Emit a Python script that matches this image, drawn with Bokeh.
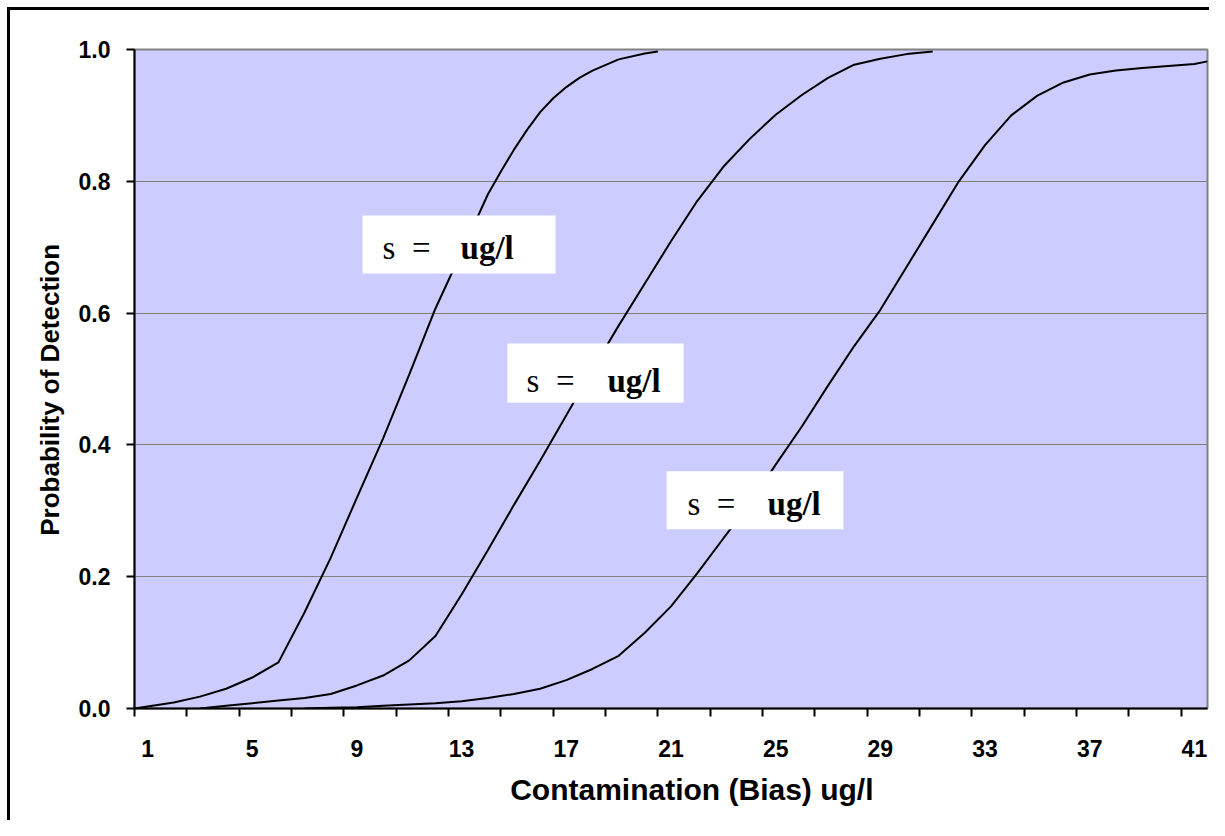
from bokeh.plotting import figure
from bokeh.models import Range1d, FixedTicker
from bokeh.core.properties import value
from bokeh.embed import file_html
from bokeh.resources import INLINE

# ---- data ----
x_tick_labels = [1, 5, 9, 13, 17, 21, 25, 29, 33, 37, 41]
y_ticks = [0.0, 0.2, 0.4, 0.6, 0.8, 1.0]
y_tick_labels = ["0.0", "0.2", "0.4", "0.6", "0.8", "1.0"]

curve1_x = [0.5, 1, 2, 3, 4, 5, 6, 7, 8, 9, 10, 11, 12, 13, 14, 14.5, 15, 15.5, 16, 16.5,
            17, 17.5, 18, 19, 20, 20.5]
curve1_y = [0.0, 0.003, 0.009, 0.018, 0.03, 0.047, 0.07, 0.146, 0.229, 0.32, 0.41, 0.507,
            0.607, 0.693, 0.78, 0.815, 0.848, 0.878, 0.905, 0.926, 0.943, 0.957, 0.968,
            0.985, 0.994, 0.997]

curve2_x = [3, 4, 5, 6, 7, 8, 9, 10, 11, 12, 13, 14, 15, 16, 17, 18, 19, 20, 21, 22, 23, 24,
            25, 26, 27, 28, 29, 30, 31]
curve2_y = [0.0, 0.004, 0.008, 0.012, 0.016, 0.022, 0.035, 0.05, 0.073, 0.11, 0.173, 0.24,
            0.309, 0.376, 0.445, 0.514, 0.581, 0.645, 0.709, 0.77, 0.822, 0.864, 0.901,
            0.931, 0.957, 0.977, 0.986, 0.993, 0.997]

curve3_x = [7, 8, 9, 10, 11, 12, 13, 14, 15, 16, 17, 18, 19, 20, 21, 22, 23, 24, 25, 26, 27,
            28, 29, 30, 31, 32, 33, 34, 35, 36, 37, 38, 39, 40, 41, 41.5]
curve3_y = [0.0, 0.001, 0.002, 0.004, 0.006, 0.008, 0.011, 0.016, 0.022, 0.03, 0.043, 0.06,
            0.08, 0.115, 0.155, 0.205, 0.258, 0.31, 0.37, 0.428, 0.49, 0.55, 0.605, 0.67,
            0.735, 0.80, 0.855, 0.90, 0.93, 0.95, 0.962, 0.968, 0.972, 0.975, 0.978, 0.982]

# label boxes (data coordinates)
box_left = [9.21, 14.75, 20.83]
box_right = [16.59, 21.48, 27.59]
box_top = [0.748, 0.554, 0.360]
box_bottom = [0.660, 0.464, 0.272]
sym_x = [9.98, 15.48, 21.63]
unit_x = [12.96, 18.57, 24.69]
text_y = [0.699, 0.4976, 0.311]
sym_text = ["s\u00a0\u00a0="] * 3
unit_text = ["ug/l"] * 3

NB = "\u00a0"

p = figure(width=1209, height=820, x_range=Range1d(0.5, 41.5), y_range=Range1d(0, 1),
           output_backend="svg", toolbar_location=None,
           min_border_left=134, min_border_right=2, min_border_top=49, min_border_bottom=112)
p.styles = {"box-shadow": "inset 7px 7px 0 0 white, inset 10px 10px 0 0 black"}

p.background_fill_color = "#ccccff"
p.border_fill_color = "white"
p.border_fill_alpha = 0
p.outline_line_color = "#808080"
p.outline_line_width = 2

# x axis
p.xaxis.ticker = FixedTicker(ticks=x_tick_labels, minor_ticks=[0.5 + 2 * i for i in range(21)])
p.xaxis.major_tick_line_color = None
p.xaxis.major_tick_out = 0
p.xaxis.major_tick_in = 0
p.xaxis.minor_tick_out = 8
p.xaxis.minor_tick_in = 0
p.xaxis.minor_tick_line_color = "black"
p.xaxis.minor_tick_line_width = 2
p.xaxis.axis_line_color = "black"
p.xaxis.axis_line_width = 2
p.xaxis.major_label_standoff = 23
p.xaxis.axis_label = NB * 5 + "Contamination (Bias) ug/l"
p.xaxis.axis_label_standoff = 13

# y axis
p.yaxis.ticker = FixedTicker(ticks=y_ticks, minor_ticks=[])
p.yaxis.major_label_overrides = {t: l for t, l in zip(y_ticks, y_tick_labels)}
p.yaxis.major_tick_out = 8
p.yaxis.major_tick_in = 0
p.yaxis.major_tick_line_width = 2
p.yaxis.axis_line_width = 2
p.yaxis.major_label_standoff = 16
p.yaxis.axis_label = "Probability of Detection" + NB * 3
p.yaxis.axis_label_standoff = 11

for ax in (p.xaxis, p.yaxis):
    ax.major_label_text_font = "Liberation Sans"
    ax.major_label_text_font_style = "bold"
    ax.major_label_text_font_size = "23px"
    ax.major_label_text_color = "black"
    ax.axis_label_text_font = "Liberation Sans"
    ax.axis_label_text_font_style = "bold"
    ax.axis_label_text_color = "black"
p.xaxis.axis_label_text_font_size = "30px"
p.yaxis.axis_label_text_font_size = "26px"

p.xgrid.visible = False
p.ygrid.ticker = FixedTicker(ticks=y_ticks)
p.ygrid.grid_line_color = "#808080"
p.ygrid.grid_line_width = 1.2

for xs, ys in ((curve1_x, curve1_y), (curve2_x, curve2_y), (curve3_x, curve3_y)):
    p.line(xs, ys, line_color="black", line_width=2)

p.quad(left=box_left, right=box_right, top=box_top, bottom=box_bottom,
       fill_color="white", line_color=None)
p.text(x=sym_x, y=text_y, text=sym_text, text_font=value("Liberation Serif"),
       text_font_size="33px", text_baseline="alphabetic", text_color="black")
p.text(x=unit_x, y=text_y, text=unit_text, text_font=value("Liberation Serif"),
       text_font_size="33px", text_font_style="bold", text_baseline="alphabetic",
       text_color="black")

open("out.html", "w").write(file_html(p, INLINE))
